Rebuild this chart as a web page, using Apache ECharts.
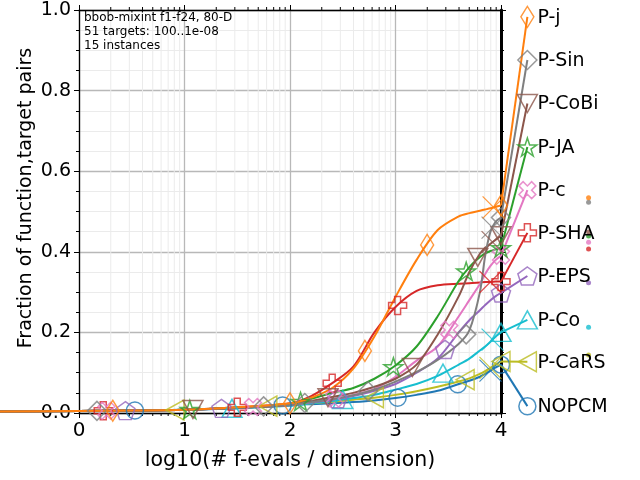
<!DOCTYPE html>
<html>
<head>
<meta charset="utf-8">
<script src="https://cdn.jsdelivr.net/npm/echarts/dist/echarts.min.js"></script>
<style>
html, body { margin: 0; padding: 0; background: #fff; }
#ecdf { width: 640px; height: 480px; }
</style>
</head>
<body>
<div id="ecdf"></div>
<script>
// algorithms, top to bottom as in the right-hand labels
var names = ['P-j', 'P-Sin', 'P-CoBi', 'P-JA', 'P-c', 'P-SHA', 'P-EPS', 'P-Co', 'P-CaRS', 'NOPCM'];
var colors = ['#ff7f0e', '#7f7f7f', '#8c564b', '#2ca02c', '#e377c2', '#d62728', '#9467bd', '#17becf', '#bcbd22', '#1f77b4'];

// log10(# f-evals / dimension)
var xGrid = [-0.75, 0, 0.5, 1, 1.5, 2, 2.2, 2.4, 2.6, 2.8, 3, 3.2, 3.4, 3.6, 3.7, 3.8, 3.85, 3.9, 3.95, 4];

// fraction of (function,target) pairs at each xGrid value
var pj    = [0.004, 0.005, 0.006, 0.008, 0.014, 0.024, 0.038, 0.062, 0.110, 0.190, 0.288, 0.380, 0.454, 0.488, 0.496, 0.502, 0.505, 0.508, 0.512, 0.515];
var pSin  = [0.004, 0.005, 0.006, 0.008, 0.013, 0.020, 0.027, 0.034, 0.044, 0.058, 0.078, 0.102, 0.132, 0.172, 0.205, 0.300, 0.390, 0.450, 0.475, 0.485];
var pCoBi = [0.004, 0.005, 0.006, 0.008, 0.013, 0.020, 0.030, 0.040, 0.050, 0.065, 0.085, 0.120, 0.195, 0.290, 0.350, 0.395, 0.410, 0.420, 0.430, 0.440];
var pJA   = [0.004, 0.005, 0.006, 0.008, 0.013, 0.022, 0.035, 0.050, 0.062, 0.085, 0.118, 0.165, 0.240, 0.328, 0.362, 0.387, 0.396, 0.402, 0.406, 0.410];
var pc    = [0.004, 0.005, 0.006, 0.008, 0.013, 0.020, 0.028, 0.035, 0.045, 0.060, 0.090, 0.130, 0.165, 0.240, 0.280, 0.320, 0.345, 0.365, 0.380, 0.390];
var pSHA  = [0.004, 0.005, 0.006, 0.008, 0.014, 0.024, 0.042, 0.074, 0.115, 0.200, 0.263, 0.303, 0.317, 0.321, 0.322, 0.324, 0.325, 0.325, 0.326, 0.326];
var pEPS  = [0.004, 0.005, 0.006, 0.008, 0.013, 0.020, 0.026, 0.033, 0.042, 0.055, 0.072, 0.100, 0.135, 0.200, 0.230, 0.255, 0.268, 0.280, 0.290, 0.298];
var pCo   = [0.004, 0.005, 0.006, 0.008, 0.012, 0.018, 0.024, 0.030, 0.037, 0.045, 0.058, 0.072, 0.092, 0.120, 0.135, 0.155, 0.165, 0.177, 0.190, 0.200];
var pCaRS = [0.004, 0.005, 0.006, 0.008, 0.013, 0.020, 0.024, 0.028, 0.033, 0.038, 0.045, 0.054, 0.065, 0.078, 0.086, 0.097, 0.104, 0.112, 0.120, 0.128];
var nopcm = [0.004, 0.005, 0.006, 0.008, 0.012, 0.020, 0.022, 0.024, 0.027, 0.031, 0.037, 0.045, 0.055, 0.072, 0.080, 0.090, 0.097, 0.105, 0.113, 0.120];
var curves = [pj, pSin, pCoBi, pJA, pc, pSHA, pEPS, pCo, pCaRS, nopcm];

// x positions of the markers along each curve
var markJ    = [0.32, 2.0, 2.71, 3.3, 4.0];
var markSin  = [0.17, 1.75, 2.14, 2.74, 3.67, 4.0];
var markCoBi = [1.08, 2.36, 3.16, 3.78, 4.0];
var markJA   = [1.05, 2.1, 2.98, 3.67, 4.0];
var markC    = [0.26, 1.65, 2.42, 3.51, 4.0];
var markSHA  = [0.23, 1.5, 2.4, 3.02, 4.0];
var markEPS  = [0.44, 1.35, 2.45, 3.47, 4.0];
var markCo   = [1.45, 2.5, 3.45, 4.0];
var markCaRS = [0.91, 1.79, 2.8, 3.66, 4.0];
var markNO   = [0.53, 1.93, 3.02, 3.59, 4.0];
var marks = [markJ, markSin, markCoBi, markJA, markC, markSHA, markEPS, markCo, markCaRS, markNO];

// median budget crosses (x), null = not drawn
var crossX = [3.93, 3.92, 3.92, null, null, 3.9, null, 3.92, 3.9, 3.9];

// label end values and the final-fraction dots on the right
var labelY = [0.983, 0.876, 0.768, 0.66, 0.553, 0.447, 0.34, 0.231, 0.127, 0.017];
var dotY = [0.534, 0.523, 0.449, 0.439, 0.424, 0.407, 0.323, 0.213, 0.144, null];

var main = {
	labelX: 4.25,
	dotX: 4.83,
	font: '"DejaVu Sans", sans-serif',
	init: function() {
		main.chart()
	},
	interp: function(ys, x) {
		for (var j = 1; j < xGrid.length; j++) {
			if (x <= xGrid[j]) {
				var t = (x - xGrid[j - 1]) / (xGrid[j] - xGrid[j - 1]);
				return ys[j - 1] + t * (ys[j] - ys[j - 1]);
			}
		}
		return ys[ys.length - 1];
	},
	symbols: function() {
		var plus = 'path://M-0.33,-1L0.33,-1L0.33,-0.33L1,-0.33L1,0.33L0.33,0.33L0.33,1L-0.33,1L-0.33,0.33L-1,0.33L-1,-0.33L-0.33,-0.33Z';
		return [
			{ s: 'diamond', size: [13, 21], rot: 0 },
			{ s: 'diamond', size: [19, 19], rot: 0 },
			{ s: 'path://M-1,-1L1,-1L0,1Z', size: [20, 18], rot: 0 },
			{ s: 'path://M0,-1L0.2245,-0.309L0.951,-0.309L0.363,0.118L0.588,0.809L0,0.382L-0.588,0.809L-0.363,0.118L-0.951,-0.309L-0.2245,-0.309Z', size: [19, 18], rot: 0 },
			{ s: plus, size: [18, 18], rot: 45 },
			{ s: plus, size: [18, 18], rot: 0 },
			{ s: 'path://M0,-1L0.951,-0.309L0.588,0.809L-0.588,0.809L-0.951,-0.309Z', size: [19, 18], rot: 0 },
			{ s: 'path://M0,-1L1,1L-1,1Z', size: [20, 18], rot: 0 },
			{ s: 'path://M-1,0L1,-1L1,1Z', size: [18, 20], rot: 0 },
			{ s: 'circle', size: [17, 17], rot: 0 }
		];
	},
	// log-spaced minor grid lines and their ticks on top / bottom spines
	minorSeries: function() {
		var minorX = [];
		for (var d = 0; d < 4; d++) {
			for (var k = 2; k < 10; k++) minorX.push([d + Math.log10(k), 0]);
		}
		return {
			type: 'custom',
			data: minorX,
			encode: { x: 0, y: 1 },
			silent: true,
			z: 0,
			renderItem: function(params, api) {
				var lo = api.coord([api.value(0), 0]);
				var hi = api.coord([api.value(0), 1]);
				return {
					type: 'group',
					children: [{
						type: 'line',
						shape: { x1: lo[0], y1: lo[1], x2: hi[0], y2: hi[1] },
						style: { stroke: '#ebebeb', lineWidth: 1 }
					}, {
						type: 'line',
						shape: { x1: lo[0], y1: lo[1], x2: lo[0], y2: lo[1] + 3 },
						style: { stroke: '#000', lineWidth: 1 }
					}, {
						type: 'line',
						shape: { x1: hi[0], y1: hi[1], x2: hi[0], y2: hi[1] - 3 },
						style: { stroke: '#000', lineWidth: 1 }
					}]
				};
			}
		};
	},
	// smooth ECDF + straight run out to its label, drawn unclipped
	curveSeries: function(i) {
		var ys = curves[i], c = colors[i];
		var last = ys[ys.length - 1];
		return {
			type: 'custom',
			data: xGrid.map(function(x, j) { return [x, ys[j]]; }),
			encode: { x: 0, y: 1 },
			silent: true,
			clip: false,
			z: 3,
			renderItem: function(params, api) {
				if (params.dataIndex !== 0) return;
				var pts = xGrid.map(function(x, j) { return api.coord([x, ys[j]]); });
				var end = api.coord([main.labelX, labelY[i]]);
				return {
					type: 'group',
					children: [{
						type: 'polyline',
						shape: { points: pts, smooth: 0.3 },
						style: { stroke: c, fill: null, lineWidth: 2 }
					}, {
						type: 'polyline',
						shape: { points: [api.coord([4, last]), end] },
						style: { stroke: c, fill: null, lineWidth: 2 }
					}, {
						type: 'text',
						x: end[0] + 10,
						y: end[1] + 1,
						style: {
							text: names[i],
							fontSize: 19,
							fontFamily: main.font,
							fill: '#000',
							align: 'left',
							verticalAlign: 'middle'
						}
					}]
				};
			}
		};
	},
	chart: function() {
		var myChart = echarts.init(document.getElementById('ecdf'));
		var syms = main.symbols();
		var series = [main.minorSeries()];

		for (var i = names.length - 1; i >= 0; i--) {
			var ys = curves[i], c = colors[i], sy = syms[i];
			var hollow = { color: 'rgba(255,255,255,0)', borderColor: c, borderWidth: 1.5 };

			series.push(main.curveSeries(i));

			var pts = marks[i].map(function(x) { return [x, main.interp(ys, x)]; });
			pts.push([main.labelX, labelY[i]]);
			series.push({
				type: 'scatter',
				data: pts,
				symbol: sy.s,
				symbolSize: sy.size,
				symbolRotate: sy.rot,
				clip: false,
				silent: true,
				z: 4,
				itemStyle: hollow
			});

			if (crossX[i] !== null) {
				series.push({
					type: 'scatter',
					data: [[crossX[i], main.interp(ys, crossX[i])]],
					symbol: 'path://M-1,-1L1,1M1,-1L-1,1',
					symbolSize: 22,
					clip: false,
					silent: true,
					z: 4,
					itemStyle: { color: 'rgba(255,255,255,0)', borderColor: c, borderWidth: 1.2 }
				});
			}
			if (dotY[i] !== null) {
				series.push({
					type: 'scatter',
					data: [[main.dotX, dotY[i]]],
					symbol: 'circle',
					symbolSize: 5,
					clip: false,
					silent: true,
					z: 2,
					itemStyle: { color: c }
				});
			}
		}

		var option = {
			animation: false,
			backgroundColor: '#fff',
			textStyle: { fontFamily: main.font },
			grid: { left: 79, right: 139, top: 10, bottom: 67 },
			xAxis: [{
				type: 'value',
				min: 0,
				max: 4,
				interval: 1,
				name: 'log10(# f-evals / dimension)',
				nameLocation: 'middle',
				nameGap: 37,
				nameTextStyle: { fontSize: 20.5, color: '#000', fontFamily: main.font },
				axisLine: { show: true, onZero: false, lineStyle: { color: '#000', width: 1.3 } },
				axisTick: { show: true, length: 5, lineStyle: { color: '#000' } },
				axisLabel: { fontSize: 20, color: '#000', margin: 8, fontFamily: main.font },
				splitLine: { show: true, lineStyle: { color: '#b8b8b8', width: 1.3 } }
			}, {
				type: 'value',
				min: 0,
				max: 4,
				interval: 1,
				position: 'top',
				axisLine: { show: true, onZero: false, lineStyle: { color: '#000', width: 1.3 } },
				axisTick: { show: true, length: 5, lineStyle: { color: '#000' } },
				axisLabel: { show: false },
				splitLine: { show: false }
			}],
			yAxis: [{
				type: 'value',
				min: 0,
				max: 1,
				interval: 0.2,
				axisLine: { show: true, onZero: false, lineStyle: { color: '#000', width: 1.3 } },
				axisTick: { show: true, length: 5, lineStyle: { color: '#000' } },
				minorTick: { show: true, splitNumber: 4, length: 3, lineStyle: { color: '#000' } },
				axisLabel: {
					fontSize: 19,
					color: '#000',
					margin: 8,
					fontFamily: main.font,
					formatter: function(v) { return v.toFixed(1); }
				},
				splitLine: { show: true, lineStyle: { color: '#b8b8b8', width: 1.3 } },
				minorSplitLine: { show: true, lineStyle: { color: '#ebebeb', width: 1 } }
			}, {
				type: 'value',
				min: 0,
				max: 1,
				interval: 0.2,
				position: 'right',
				axisLine: { show: true, onZero: false, lineStyle: { color: '#000', width: 3 } },
				axisTick: { show: true, length: 5, lineStyle: { color: '#000' } },
				minorTick: { show: true, splitNumber: 4, length: 3, lineStyle: { color: '#000' } },
				axisLabel: { show: false },
				splitLine: { show: false }
			}],
			graphic: [{
				type: 'text',
				left: 84,
				top: 11,
				z: 10,
				style: {
					text: 'bbob-mixint f1-f24, 80-D\n51 targets: 100..1e-08\n15 instances',
					fontSize: 12,
					lineHeight: 14,
					fontFamily: main.font,
					fill: '#000'
				}
			}, {
				// y axis title
				type: 'text',
				x: 26,
				y: 198,
				rotation: Math.PI / 2,
				style: {
					text: 'Fraction of function,target pairs',
					fontSize: 19,
					fontFamily: main.font,
					fill: '#000',
					align: 'center',
					verticalAlign: 'middle'
				}
			}],
			series: series
		};

		myChart.setOption(option);
	}
}

main.init()
</script>
</body>
</html>
